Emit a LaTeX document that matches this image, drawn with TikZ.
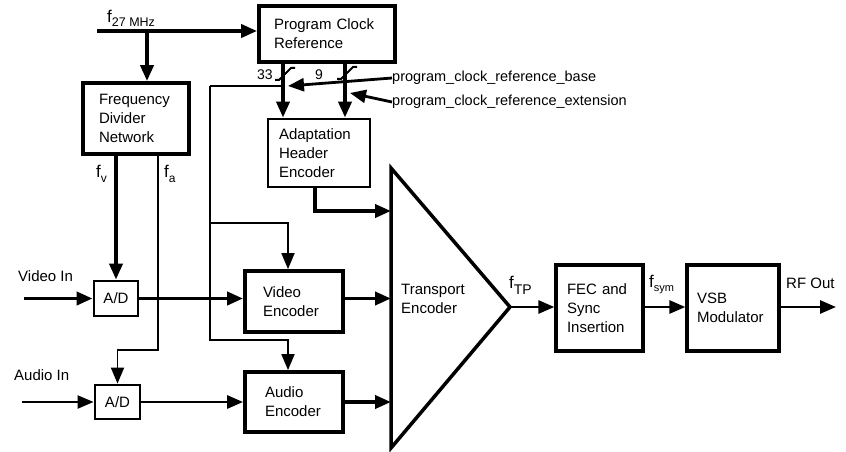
\documentclass[tikz,border=0pt]{standalone}
\usepackage{fontspec}
\setmainfont{Liberation Sans}
\usetikzlibrary{arrows.meta}
\newcommand{\flabel}[3]{{\fontsize{17}{17}\selectfont f}\raisebox{#3}{\fontsize{#2}{#2}\selectfont #1}}
\begin{document}
\begin{tikzpicture}[x=1pt,y=-1pt,
  every node/.style={font=\fontsize{15}{19}\selectfont, inner sep=0pt},
  box/.style={draw, line width=3.8pt, align=left, inner ysep=0pt},
  arr/.style={-{Triangle[length=16pt,width=13pt]}},
  thickl/.style={line width=3.8pt},
  medl/.style={line width=2.8pt},
  thinl/.style={line width=1.8pt},
  small/.style={font=\fontsize{14.5}{14.5}\selectfont}]
\useasboundingbox (0,0) rectangle (846,452);

% boxes
\node[box, minimum height=56pt, text width=106pt, inner xsep=15pt] (pcr) at (327,34) {Program Clock\\Reference};
\node[box, minimum height=71pt, text width=74pt, inner xsep=16pt] (fdn) at (136,118.5) {Frequency\\Divider\\Network};
\node[box, line width=2.8pt, minimum height=68pt, text width=80pt, inner xsep=11pt] (ahe) at (319,153) {Adaptation\\Header\\Encoder};
\node[box, line width=2.8pt, minimum width=44pt, minimum height=35pt, align=center] (adv) at (116,298.5) {A/D};
\node[box, line width=2.8pt, minimum width=45pt, minimum height=34pt, align=center] (ada) at (117.5,402) {A/D};
\node[box, minimum height=61pt, text width=62pt, inner xsep=18pt] (ve) at (294,301.5) {Video\\Encoder};
\node[box, minimum height=60pt, text width=58pt, inner xsep=20pt] (ae) at (294,402) {Audio\\Encoder};
\node[box, line width=3.3pt, minimum height=86pt, text width=65pt, inner xsep=11pt] (fec) at (599.5,308) {FEC and\\Sync\\Insertion};
\node[box, line width=3.3pt, minimum height=86pt, text width=72pt, inner xsep=10pt] (vsb) at (733,308) {VSB\\Modulator};

% transport encoder triangle
\coordinate (tt) at (391,168);
\coordinate (tb) at (391,448);
\coordinate (tp) at (510,307);
\draw[line width=3.5pt] (tt) -- (tp) -- (tb) -- cycle;
\node[anchor=west, align=left] (tel) at (401,299) {Transport\\Encoder};

% clock input
\coordinate (f27s) at (97,31);
\coordinate (br) at (147,31);
\draw[thickl,arr] (f27s) -- (pcr.west |- f27s);
\draw[thickl,arr] (br) -- (br |- fdn.north);
\draw[thickl,arr] (adv.north |- fdn.south) -- (adv.north);
\coordinate (fa) at (158,350);
\draw[thinl,arr] (fa |- fdn.south) -- (fa) -| (ada.north);

% video / audio paths
\coordinate (vin) at (24,298.5);
\coordinate (ain) at (22,402);
\draw[thickl,arr] (vin) -- (adv.west);
\draw[thickl,arr] (adv.east) -- (ve.west |- adv.east);
\draw[thickl,arr] (ve.east |- adv.east) -- (tt |- adv.east);
\draw[line width=2.2pt,arr] (ain) -- (ada.west);
\draw[medl,arr] (ada.east) -- (ae.west |- ada.east);
\draw[thickl,arr] (ae.east |- ada.east) -- (tt |- ada.east);

% PCR buses
\coordinate (b33) at (283,0);
\coordinate (b9) at (345,0);
\draw[thickl,arr] (pcr.south -| b33) -- (ahe.north -| b33);
\draw[thickl,arr] (pcr.south -| b9) -- (ahe.north -| b9);
\draw[line width=2pt] (275,80) -- (279,80) -- (291,68) -- (295,68);
\draw[line width=2pt] (337,79) -- (341,79) -- (353,67) -- (357,67);
\node[font=\fontsize{14}{14}\selectfont, anchor=base west] (l33) at (257,80) {33};
\node[font=\fontsize{14}{14}\selectfont, anchor=base west] (l9) at (315,79) {9};

\node[small, anchor=west] (pcrb) at (392,78) {program\_clock\_reference\_base};
\node[small, anchor=west] (pcre) at (392,102) {program\_clock\_reference\_extension};
\coordinate (tip1) at (288,86);
\coordinate (tip2) at (350,93);
\draw[medl,arr] (pcrb.west) -- (tip1);
\draw[medl,arr] (pcre.west) -- (tip2);

% thin control bus
\coordinate (j1) at (283,86);
\coordinate (c1) at (210,86);
\coordinate (x288) at (288,0);
\draw[thinl] (j1) -- (c1);
\draw[thinl,arr] (c1) |- (x288 |- 0,340) -- (ae.north -| x288);
\draw[thinl,arr] (c1 |- 0,223) -| (ve.north -| x288);

% adaptation header output
\coordinate (aho) at (315,211);
\draw[thickl,arr] (ahe.south -| aho) |- (tt |- aho);

% output chain
\coordinate (rfo) at (836,307);
\draw[medl,arr] (tp) -- (fec.west |- tp);
\draw[medl,arr] (fec.east |- tp) -- (vsb.west |- tp);
\draw[medl,arr] (vsb.east |- tp) -- (rfo);

% labels
\node[anchor=base west] (lvin) at (18,281) {Video In};
\node[anchor=base west] (lain) at (14,380) {Audio In};
\node[anchor=base west] (lrf) at (786,288) {RF Out};
\node[anchor=base west] (lf27) at (107,23) {\flabel{27 MHz}{12.5}{-4pt}};
\node[anchor=base west] (lfv) at (96,177) {\flabel{v}{12}{-5pt}};
\node[anchor=base west] (lfa) at (164,177) {\flabel{a}{12}{-5pt}};
\node[anchor=base west] (lftp) at (509,288) {\flabel{TP}{14}{-6pt}};
\node[anchor=base west] (lfsym) at (649,287) {\flabel{sym}{11}{-4pt}};
\end{tikzpicture}
\end{document}
